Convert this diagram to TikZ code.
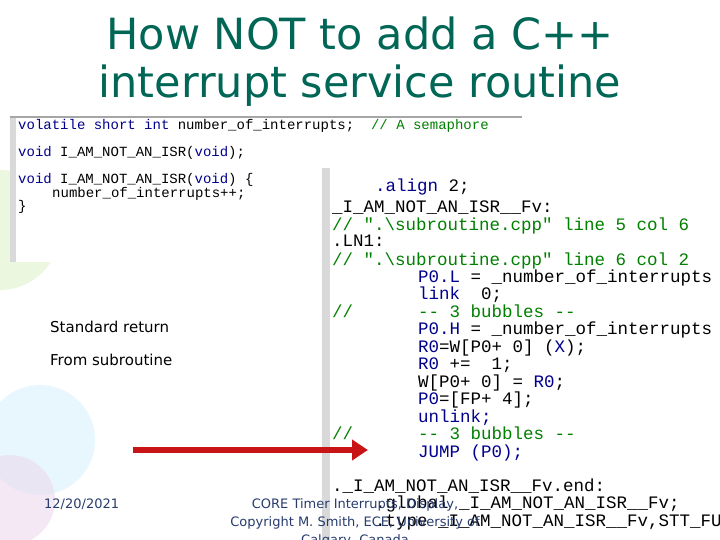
\documentclass[tikz,border=0pt]{standalone}
\usetikzlibrary{arrows.meta}
\usepackage{fontspec}
\setmainfont{DejaVu Sans}
\newfontfamily\codef{Liberation Mono}
\newfontfamily\labf{DejaVu Sans}
\definecolor{titlec}{RGB}{0,102,85}
\definecolor{kw}{RGB}{0,0,140}
\definecolor{cm}{RGB}{0,128,0}
\definecolor{foot}{RGB}{40,60,110}
\definecolor{arr}{RGB}{200,20,20}
\begin{document}
\begin{tikzpicture}[x=1pt,y=-1pt,
  lc/.style={anchor=base west,inner sep=0,font=\codef\fontsize{14}{14}\selectfont},
  rc/.style={anchor=base west,inner sep=0,font=\codef\fontsize{17.5}{18}\selectfont},
  lab/.style={anchor=base west,inner sep=0,font=\labf\fontsize{15}{16}\selectfont},
  ft/.style={anchor=base,inner sep=0,font=\labf\fontsize{13}{14}\selectfont,text=foot}]
\useasboundingbox (0,0) rectangle (720,540);
\fill[white] (0,0) rectangle (720,540);
% faint bubbles
\fill[yellow!40!green!25,opacity=.5] (0,230) circle (60);
\fill[cyan!15,opacity=.6] (40,440) circle (55);
\fill[violet!15,opacity=.6] (10,500) circle (45);
% title
\node[font=\labf\fontsize{43}{48}\selectfont,text=titlec,align=center,inner sep=0] (title) at (360,62) {How NOT to add a C++\\interrupt service routine};
% left panel
\fill[white] (10,117) rectangle (522,262);
\draw[gray!70,line width=2] (10,117) -- (522,117);
\fill[gray!30] (10,118) rectangle (16,262);
\node[lc] (l1) at (18,130) {\textcolor{kw}{volatile short int} number\_of\_interrupts;\ \ \textcolor{cm}{// A semaphore}};
\node[lc] (l2) at (18,157) {\textcolor{kw}{void} I\_AM\_NOT\_AN\_ISR(\textcolor{kw}{void});};
\node[lc] (l3) at (18,184) {\textcolor{kw}{void} I\_AM\_NOT\_AN\_ISR(\textcolor{kw}{void}) \{};
\node[lc] (l4) at (52,197) {number\_of\_interrupts++;};
\node[lc] (l5) at (18,211) {\}};
% right panel
\fill[white] (322,168) rectangle (720,540);
\fill[gray!30] (322,168) rectangle (330,540);
\node[rc,text=kw] (r1) at (375,192) {.align \textcolor{black}{2;}};
\node[rc] (r2) at (332,213) {\_I\_AM\_NOT\_AN\_ISR\_\_Fv:};
\node[rc,text=cm] (r3) at (332,230) {// ".\textbackslash subroutine.cpp" line 5 col 6};
\node[rc] (r4) at (332,247) {.LN1:};
\node[rc,text=cm] (r5) at (332,265) {// ".\textbackslash subroutine.cpp" line 6 col 2};
\node[rc] (r6) at (418,282) {\textcolor{kw}{P0.L} = \_number\_of\_interrupts};
\node[rc] (r7) at (418,299) {\textcolor{kw}{link}\ \ 0;};
\node[rc,text=cm] (r8a) at (332,317) {//};
\node[rc,text=cm] (r8) at (418,317) {-- 3 bubbles --};
\node[rc] (r9) at (418,334) {\textcolor{kw}{P0.H} = \_number\_of\_interrupts};
\node[rc] (r10) at (418,352) {\textcolor{kw}{R0}=W[P0+ 0] (\textcolor{kw}{X});};
\node[rc] (r11) at (418,369) {\textcolor{kw}{R0} +=\ \ 1;};
\node[rc] (r12) at (418,387) {W[P0+ 0] = \textcolor{kw}{R0};};
\node[rc] (r13) at (418,404) {\textcolor{kw}{P0}=[FP+ 4];};
\node[rc,text=kw] (r14) at (418,422) {unlink;};
\node[rc,text=cm] (r15a) at (332,439) {//};
\node[rc,text=cm] (r15) at (418,439) {-- 3 bubbles --};
\node[rc,text=kw] (r16) at (418,457) {JUMP (P0);};
\node[rc] (r17) at (332,491) {.\_I\_AM\_NOT\_AN\_ISR\_\_Fv.end:};
\node[rc] (r18) at (375,508) {.global \_I\_AM\_NOT\_AN\_ISR\_\_Fv;};
\node[rc] (r19) at (375,526) {.type \_I\_AM\_NOT\_AN\_ISR\_\_Fv,STT\_FUNC;};
% labels
\node[lab] (s1) at (50,332) {Standard return};
\node[lab] (s2) at (50,365) {From subroutine};
% arrow
\coordinate (a0) at (133,450);
\coordinate (a1) at (368,450);
\draw[arr,line width=6,-{Triangle[length=16,width=20]}] (a0) -- (a1);
% footer
\node[ft,anchor=base west] (date) at (44,508) {12/20/2021};
\node[ft] (f1) at (355,508) {CORE Timer Interrupts, Display,};
\node[ft] (f2) at (355,526) {Copyright M. Smith, ECE, University of};
\node[ft] (f3) at (355,544) {Calgary, Canada};
\end{tikzpicture}
\end{document}
